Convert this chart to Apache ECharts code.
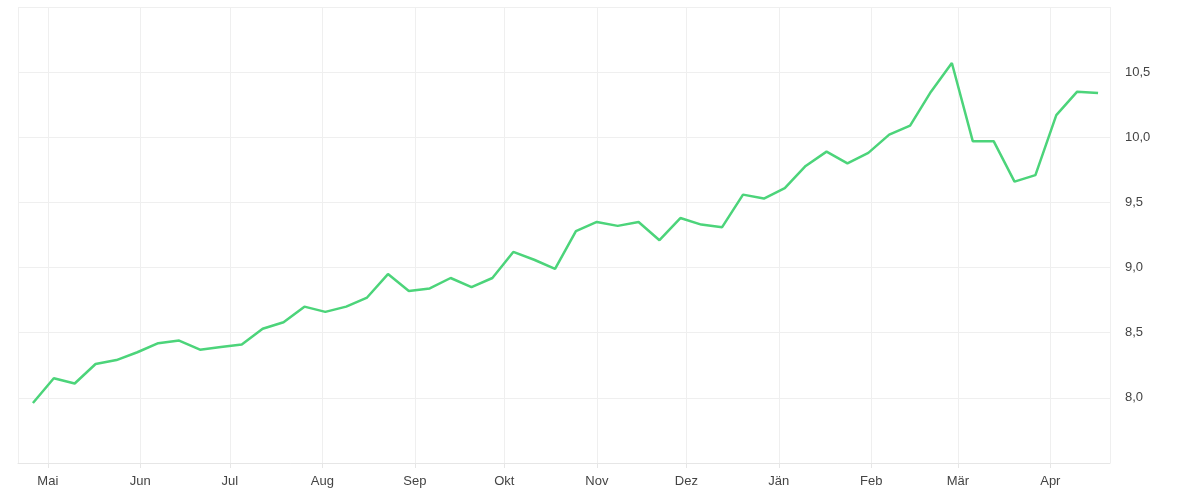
<!DOCTYPE html>
<html><head><meta charset="utf-8">
<script src="https://cdn.jsdelivr.net/npm/echarts@6/dist/echarts.min.js"></script>
<style>html,body{margin:0;padding:0;background:#fff}#c{width:1200px;height:500px}</style>
</head><body><div id="c"></div>
<script>
const startDate = '2023-04-26';
const values = [7.96,8.15,8.11,8.26,8.29,8.35,8.42,8.44,8.37,8.39,8.41,8.53,8.58,8.70,8.66,8.70,8.77,8.95,8.82,8.84,8.92,8.85,8.92,9.12,9.06,8.99,9.28,9.35,9.32,9.35,9.21,9.38,9.33,9.31,9.56,9.53,9.61,9.78,9.89,9.80,9.88,10.02,10.09,10.35,10.57,9.97,9.97,9.66,9.71,10.17,10.35,10.34];
const monthLabels = ['Jän','Feb','Mär','Apr','Mai','Jun','Jul','Aug','Sep','Okt','Nov','Dez'];
const t0 = Date.UTC(2023,3,26);
const data = values.map((v,i)=>[t0 + i*7*86400000, v]);
const chart = echarts.init(document.getElementById('c'));
chart.setOption({
  animation:false,
  grid:{left:18,right:90,top:7,bottom:37},
  xAxis:{type:'time',min:Date.UTC(2023,3,21),max:Date.UTC(2024,3,21),
    minInterval:27*86400000,maxInterval:32*86400000,
    axisLine:{show:true,lineStyle:{color:'#e6e6e6'}},axisTick:{show:true,length:5,lineStyle:{color:'#e6e6e6'}},
    splitLine:{show:true,lineStyle:{color:'#efefef'}},
    axisLabel:{color:'#444',fontSize:13,margin:12,formatter:v=>monthLabels[new Date(v).getUTCMonth()]}},
  yAxis:{type:'value',position:'right',min:7.5,max:11,interval:0.5,
    axisLine:{show:false},axisTick:{show:false},
    splitLine:{lineStyle:{color:'#efefef'}},
    axisLabel:{color:'#444',fontSize:13,margin:15,showMinLabel:false,showMaxLabel:false,
      formatter:v=>v.toFixed(1).replace('.',',')}},
  series:[{type:'line',data:data,showSymbol:false,lineStyle:{color:'#4cd47a',width:2.5},itemStyle:{color:'#4cd47a'}}]
});
</script></body></html>
